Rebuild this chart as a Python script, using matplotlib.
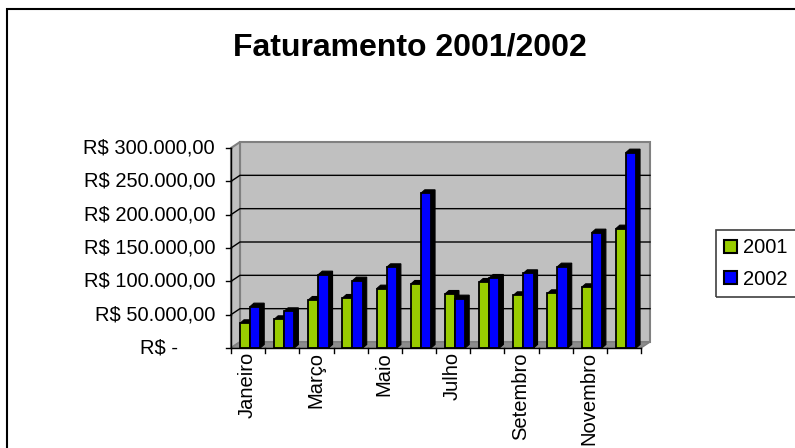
import numpy as np
import matplotlib
matplotlib.use('Agg')
import matplotlib.pyplot as plt
from matplotlib.patches import Polygon, Rectangle, Patch
from matplotlib.lines import Line2D
from matplotlib.transforms import IdentityTransform

plt.rcParams['font.family'] = ['Liberation Sans', 'DejaVu Sans']

# dados
meses = ['Janeiro', 'Fevereiro', 'Março', 'Abril', 'Maio', 'Junho',
         'Julho', 'Agosto', 'Setembro', 'Outubro', 'Novembro', 'Dezembro']
fat_2001 = [37000, 43000, 72000, 75000, 89000, 96000,
            81000, 99000, 79000, 82000, 91000, 179000]
fat_2002 = [62000, 55000, 110000, 101000, 121000, 232000,
            74000, 105000, 112000, 122000, 173000, 293000]
yticks = [0, 50000, 100000, 150000, 200000, 250000, 300000]
series = ['2001', '2002']
cores = ['#99cc00', '#0000ff']

FS = 14.5


def brl(v):
    if v == 0:
        return 'R$ -'
    s = f'{v:,.2f}'.replace(',', 'X').replace('.', ',').replace('X', '.')
    return 'R$ ' + s


W, H = 795, 448
fig = plt.figure(figsize=(W / 100, H / 100), dpi=100)
ax = fig.add_axes([231 / W, 100 / H, 410 / W, 200 / H])
ax.set_xlim(-0.5, 11.5)
ax.set_ylim(0, 300000)
ax.axis('off')

ID = IdentityTransform()


def px(x, y):
    return np.array(ax.transData.transform((x, y)))


def poly(pts, **kw):
    ax.add_patch(Polygon(pts, closed=True, transform=ID, clip_on=False, **kw))


def line(pts, **kw):
    pts = np.array(pts)
    ax.add_line(Line2D(pts[:, 0], pts[:, 1], transform=ID, clip_on=False, **kw))


# paredes 3D
d = np.array([9, 6])
x0, x1 = -0.5, 11.5
fl, fr = px(x0, 0), px(x1, 0)
tl, tr = px(x0, yticks[-1]), px(x1, yticks[-1])
poly([fl + d, fr + d, tr + d, tl + d], fc='#c0c0c0', ec='#808080', lw=1.5, zorder=1)
poly([fl, fl + d, tl + d, tl], fc='#c0c0c0', ec='#808080', lw=1.5, zorder=1)
poly([fl, fr, fr + d, fl + d], fc='#8c8c8c', ec='#808080', lw=1, zorder=1)
for v in yticks[1:-1]:
    a = px(x0, v)
    line([a, a + d, px(x1, v) + d], color='black', lw=1, zorder=2)

# eixos
line([fl, tl], color='black', lw=1, zorder=7)
line([fl, fr], color='black', lw=1, zorder=7)
for v in yticks:
    a = px(x0, v)
    line([a, a - [5, 0]], color='black', lw=1, zorder=7)
    off = 53 if v == 0 else 16
    ax.text(a[0] - off, a[1], brl(v), transform=ID, ha='right', va='center', fontsize=FS)
for i in range(13):
    a = px(i - 0.5, 0)
    line([a, a - [0, 5]], color='black', lw=1, zorder=7)
for i in range(0, 12, 2):
    a = px(i, 0)
    ax.text(a[0] - 1, a[1] - 4, meses[i], transform=ID, rotation=90,
            ha='center', va='top', fontsize=FS)

# barras
x = np.arange(len(meses))
offs = [-0.237, 0.055]
larg = [0.292, 0.30]
db = np.array([4, 3.5])
for k, vals in enumerate([fat_2001, fat_2002]):
    for xi, v in zip(x + offs[k], vals):
        a = px(xi, 0)
        b = px(xi + larg[k], v)
        poly([(a[0], b[1]), (a[0] + db[0], b[1] + db[1]), (b[0] + db[0], b[1] + db[1]),
              (b[0] + db[0], a[1] + db[1]), (b[0], a[1]), (b[0], b[1])],
             fc='black', ec='black', lw=0.8, zorder=3 + 2 * k)
    ax.bar(x + offs[k], vals, width=larg[k], align='edge', color=cores[k],
           edgecolor='black', linewidth=1.3, zorder=4 + 2 * k, clip_on=False)

# titulo
fig.text(409.5 / W, (H - 55) / H, 'Faturamento 2001/2002', ha='center', va='baseline',
         fontsize=23, fontweight='bold')

# legenda
fig.add_artist(Rectangle((716 / W, (H - 297) / H), 100 / W, 67 / H, transform=fig.transFigure,
                         fill=False, ec='#404040', lw=1.2, clip_on=False))
handles = [Patch(fc=cores[0], ec='black', lw=1.5), Patch(fc=cores[1], ec='black', lw=1.5)]
fig.legend(handles, series, loc='center left', bbox_to_anchor=(720 / W, (H - 263.5) / H),
           frameon=False, fontsize=FS, handlelength=0.65, handleheight=0.65,
           handletextpad=0.3, labelspacing=0.6, borderpad=0.2, borderaxespad=0)

# moldura externa
fig.add_artist(Rectangle((7 / W, -0.1), 1.2, (H - 9) / H + 0.1, transform=fig.transFigure,
                         fill=False, ec='black', lw=1.5, clip_on=False))

fig.savefig('out.png', dpi=100)
